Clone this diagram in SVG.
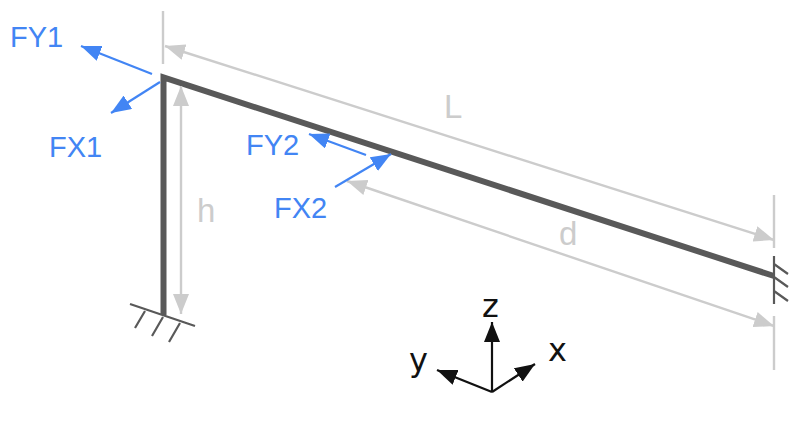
<svg xmlns="http://www.w3.org/2000/svg" width="800" height="421" viewBox="0 0 800 421">
<style>
.t{font-family:"Liberation Sans",Arial,sans-serif;font-size:29px}
.blue{fill:#4285f4}
.grey{fill:#cccccc;font-size:33px}
.axl{font-family:"DejaVu Sans",sans-serif;font-size:32px;fill:#111}
.bl{stroke:#4285f4;stroke-width:2.200;fill:none}
.gr{stroke:#cccccc;stroke-width:2.400;fill:none}
.bk{stroke:#111;stroke-width:2.200;fill:none}
.st{stroke:#595959;stroke-width:6;fill:none;stroke-linejoin:miter}
.sp{stroke:#595959;stroke-width:2.200;fill:none}
</style>
<defs>
<marker id="ab" markerUnits="userSpaceOnUse" markerWidth="20" markerHeight="16" refX="20" refY="8" orient="auto"><path d="M0 0L20 8L0 16z" fill="#4285f4"/></marker>
<marker id="ag" markerUnits="userSpaceOnUse" markerWidth="20" markerHeight="16" refX="20" refY="8" orient="auto-start-reverse"><path d="M0 0L20 8L0 16z" fill="#cccccc"/></marker>
<marker id="ak" markerUnits="userSpaceOnUse" markerWidth="20" markerHeight="16" refX="20" refY="8" orient="auto"><path d="M0 0L20 8L0 16z" fill="#111"/></marker>
</defs>
<g id="frame"><path class="st" d="M163.500 315V77.500L774 276"/></g>
<g id="support-base"><path class="sp" d="M130 304L195 326M145 311L135 328M163 317L152 336M180 323L169 342"/></g>
<g id="support-wall"><path class="sp" d="M774 256V304M774 264L788 274M774 277L788 287M774 291L788 301"/></g>
<g id="connectors">
<path class="gr" d="M163 11V64M774 195V248M774 316V370"/>
<path class="gr" marker-start="url(#ag)" marker-end="url(#ag)" d="M165 46L774 240"/>
<path class="gr" marker-start="url(#ag)" marker-end="url(#ag)" d="M181 86V314"/>
<path class="gr" marker-start="url(#ag)" marker-end="url(#ag)" d="M347 181L774 326"/>
<path class="bl" marker-end="url(#ab)" d="M152 74L81 46"/>
<path class="bl" marker-end="url(#ab)" d="M160 82L111 113"/>
<path class="bl" marker-end="url(#ab)" d="M366 155L309 134"/>
<path class="bl" marker-end="url(#ab)" d="M335 187L391 154"/>
<path class="bk" marker-end="url(#ak)" d="M492 392V322"/>
<path class="bk" marker-end="url(#ak)" d="M492 392L437 370"/>
<path class="bk" marker-end="url(#ak)" d="M492 392L535 364"/>
</g>
<g id="labels">
<text class="t blue" x="10" y="47">FY1</text>
<text class="t blue" x="49" y="157">FX1</text>
<text class="t blue" x="246" y="155">FY2</text>
<text class="t blue" x="274" y="218">FX2</text>
<text class="t grey" x="444" y="118">L</text>
<text class="t grey" x="197" y="222">h</text>
<text class="t grey" x="559" y="245">d</text>
<text class="axl" x="482" y="317">z</text>
<text class="axl" x="409" y="371">y</text>
<text class="axl" x="548" y="361">x</text>
</g>
</svg>
